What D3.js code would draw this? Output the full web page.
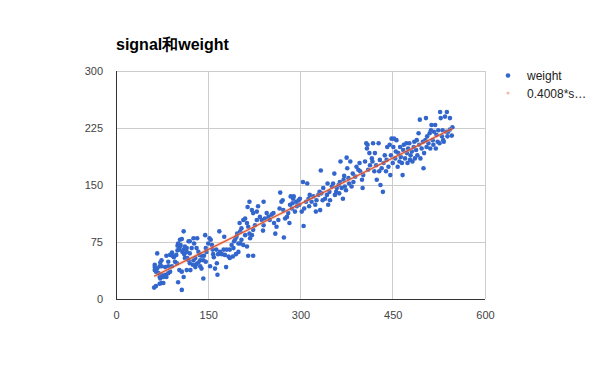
<!DOCTYPE html>
<html>
<head>
<meta charset="utf-8">
<script src="https://cdn.jsdelivr.net/npm/d3@7"></script>
<style>
  html, body { margin: 0; padding: 0; background: #fff; }
  svg { display: block; font-family: "Liberation Sans", Arial, sans-serif; }
</style>
</head>
<body>
<div id="chart"></div>
<script>
// ---------------------------------------------------------------------------
// Data
// ---------------------------------------------------------------------------
const title = 'signal和weight';

const signal = [
  62, 65, 71, 74, 77, 63, 63, 63, 65, 67, 69, 71, 72, 74, 77, 80, 82, 85, 88, 67,
  74, 82, 85, 88, 91, 92, 94, 96, 99, 100, 103, 101, 104, 107, 110, 104, 100, 105, 108, 111,
  112, 115, 116, 118, 120, 121, 115, 107, 103, 101, 107, 110, 125, 126, 129, 129, 131, 134, 137, 126,
  132, 134, 136, 137, 139, 142, 143, 145, 146, 147, 150, 152, 154, 156, 157, 158, 159, 161, 163, 164,
  165, 166, 168, 169, 172, 175, 176, 177, 179, 180, 183, 185, 188, 191, 192, 194, 196, 197, 201, 202,
  199, 195, 190, 185, 153, 146, 142, 139, 131, 127, 123, 120, 115, 112, 118, 120, 110, 98, 91, 85,
  80, 74, 72, 71,
  202, 204, 207, 210, 213, 215, 217, 210, 204, 199, 207, 213, 215, 223, 218, 221, 223, 226, 229, 223,
  221, 217, 214, 229, 231, 234, 237, 239, 240, 242, 240, 245, 248, 250, 253, 256, 257, 259, 261, 264,
  266, 267, 269, 271, 272, 273, 275, 278, 280, 282, 283, 284, 286, 287, 288, 289, 291, 293, 294, 297,
  298, 299, 302, 304, 305, 306, 309, 311, 313, 314, 315, 318, 321, 324, 325, 326, 329, 331, 332, 333,
  334, 336, 337, 340, 343, 344, 345, 347, 348, 351, 353, 355, 356, 358, 359, 362, 363, 364, 365, 367,
  369, 370, 371, 372, 374, 375, 376, 378, 379, 381, 383, 385, 386, 389, 391, 394, 396,
  397, 400, 401, 402, 405, 407, 408, 409, 410, 412, 413, 416, 417, 418, 420, 421, 423, 424, 427, 428,
  429, 430, 432, 434, 435, 437, 439, 440, 441, 443, 445, 446, 447, 448, 450, 451, 452, 454, 455, 456,
  458, 459, 461, 462, 463, 465, 466, 467, 468, 470, 472, 473, 474, 475, 477, 478, 479, 481, 482, 484,
  485, 486, 488, 489, 490, 492, 493, 494, 495, 497, 499, 500, 501, 503, 504, 505, 506, 508, 510, 511,
  512, 513, 515, 516, 517, 519, 520, 521, 523, 524, 526, 527, 528, 530, 531, 532, 533, 535, 537, 538,
  539, 540, 543, 543, 547, 546
];

const weight = [
  15, 17, 20, 21, 21, 45, 42, 38, 36, 40, 34, 29, 27, 32, 29, 32, 29, 34, 36, 60,
  51, 57, 49, 58, 61, 57, 55, 49, 47, 64, 65, 73, 78, 79, 89, 69, 70, 71, 62, 59,
  54, 62, 54, 51, 47, 38, 38, 36, 38, 22, 12, 29, 45, 51, 54, 42, 46, 48, 51, 80,
  80, 62, 58, 43, 40, 27, 57, 84, 67, 62, 73, 80, 78, 71, 65, 59, 55, 40, 65, 47,
  32, 59, 89, 62, 59, 65, 82, 58, 42, 65, 56, 65, 71, 67, 76, 79, 82, 86, 100, 73,
  62, 59, 56, 54, 43, 49, 51, 57, 67, 73, 67, 60, 67, 69, 76, 76, 65, 58, 43, 43,
  42, 43, 48, 43,
  89, 93, 104, 106, 100, 95, 86, 84, 78, 73, 71, 69, 57, 57, 80, 84, 91, 97, 104, 113,
  117, 128, 121, 115, 122, 108, 104, 90, 97, 106, 128, 113, 108, 104, 111, 113, 100, 86, 95, 104,
  119, 140, 128, 130, 117, 81, 106, 108, 113, 100, 124, 135, 119, 126, 132, 135, 115, 128, 122, 130,
  124, 132, 115, 154, 96, 119, 128, 152, 132, 122, 137, 128, 135, 124, 115, 130, 137, 141, 117, 169,
  139, 130, 146, 132, 137, 152, 124, 141, 130, 148, 152, 165, 137, 141, 146, 150, 139, 154, 181, 146,
  132, 157, 162, 148, 143, 186, 172, 159, 152, 181, 148, 165, 154, 161, 174, 170, 179,
  168, 157, 146, 163, 181, 205, 198, 203, 170, 192, 176, 185, 181, 205, 168, 192, 176, 157, 205, 168,
  183, 150, 172, 141, 179, 189, 168, 183, 200, 174, 203, 163, 189, 211, 179, 200, 211, 185, 194, 209,
  174, 192, 181, 200, 187, 179, 163, 196, 203, 185, 205, 192, 179, 198, 205, 183, 189, 194, 181, 200,
  207, 185, 196, 209, 189, 218, 203, 236, 185, 198, 207, 172, 192, 209, 238, 200, 214, 205, 218, 198,
  222, 229, 209, 203, 220, 229, 198, 216, 207, 222, 205, 246, 238, 214, 222, 209, 207, 240, 220, 246,
  214, 220, 238, 223, 226, 215
];

// trendline reported in the legend: weight = 0.4008 * signal + b
const trendSlope = 0.4008;
const trendIntercept = 5;

const xTicks = [0, 150, 300, 450, 600];
const yTicks = [0, 75, 150, 225, 300];
const legendLabels = ['weight', '0.4008*s…'];

// ---------------------------------------------------------------------------
// Layout
// ---------------------------------------------------------------------------
const W = 600, H = 371;
const M = { top: 71, right: 115, bottom: 72, left: 116 };

const svg = d3.select('#chart').append('svg')
  .attr('width', W)
  .attr('height', H);

const x = d3.scaleLinear().domain([0, 600]).range([M.left, W - M.right]);
const y = d3.scaleLinear().domain([0, 300]).range([H - M.bottom, M.top]);

// title
svg.append('text')
  .attr('x', 116)
  .attr('y', 50)
  .attr('font-size', 16)
  .attr('font-weight', 'bold')
  .attr('fill', '#000')
  .text(title);

// gridlines
const grid = svg.append('g').attr('shape-rendering', 'crispEdges');
grid.selectAll('line.gx')
  .data(xTicks.filter(d => d !== 0))
  .join('line')
  .attr('class', 'gx')
  .attr('x1', d => x(d)).attr('x2', d => x(d))
  .attr('y1', y(0)).attr('y2', y(300))
  .attr('stroke', '#cccccc');
grid.selectAll('line.gy')
  .data(yTicks.filter(d => d !== 0))
  .join('line')
  .attr('class', 'gy')
  .attr('x1', x(0)).attr('x2', x(600))
  .attr('y1', d => y(d)).attr('y2', d => y(d))
  .attr('stroke', '#cccccc');

// tick labels via d3 axes (domain and tick lines hidden)
const xAxis = svg.append('g')
  .attr('transform', `translate(0,${y(0)})`)
  .call(d3.axisBottom(x).tickValues(xTicks).tickSize(0).tickPadding(12));
const yAxis = svg.append('g')
  .attr('transform', `translate(${x(0)},0)`)
  .call(d3.axisLeft(y).tickValues(yTicks).tickSize(0).tickPadding(13));
[xAxis, yAxis].forEach(a => {
  a.select('.domain').remove();
  a.selectAll('text')
    .attr('font-family', '"Liberation Sans", Arial, sans-serif')
    .attr('font-size', 11)
    .attr('fill', '#444');
});

// points
const pts = signal.map((s, i) => ({ s, w: weight[i] }));
svg.append('g')
  .selectAll('circle')
  .data(pts)
  .join('circle')
  .attr('cx', d => x(d.s))
  .attr('cy', d => y(d.w))
  .attr('r', 2.3)
  .attr('fill', '#3366cc');

// trendline
const [sMin, sMax] = d3.extent(signal);
const trend = [sMin, sMax].map(s => ({ s, w: trendSlope * s + trendIntercept }));
const line = d3.line().x(d => x(d.s)).y(d => y(d.w));
svg.append('path')
  .datum(trend)
  .attr('d', line)
  .attr('fill', 'none')
  .attr('stroke', '#f0a080')
  .attr('stroke-width', 3)
  .attr('stroke-opacity', 0.5);
svg.append('path')
  .datum(trend)
  .attr('d', line)
  .attr('fill', 'none')
  .attr('stroke', '#dc3912')
  .attr('stroke-width', 1.2)
  .attr('stroke-opacity', 0.85);

// baselines
svg.append('line')
  .attr('x1', x(0)).attr('x2', x(600))
  .attr('y1', y(0)).attr('y2', y(0))
  .attr('stroke', '#333').attr('shape-rendering', 'crispEdges');
svg.append('line')
  .attr('x1', x(0)).attr('x2', x(0))
  .attr('y1', y(0)).attr('y2', y(300))
  .attr('stroke', '#333').attr('shape-rendering', 'crispEdges');

// legend
const legend = svg.append('g').attr('transform', 'translate(508,0)');
legend.append('circle')
  .attr('cx', 0).attr('cy', 75.5).attr('r', 2.3)
  .attr('fill', '#3366cc');
legend.append('circle')
  .attr('cx', 0).attr('cy', 93).attr('r', 1.6)
  .attr('fill', '#dc3912').attr('opacity', 0.35);
legend.selectAll('text')
  .data(legendLabels)
  .join('text')
  .attr('x', 19)
  .attr('y', (d, i) => 80 + i * 17.5)
  .attr('font-size', 12)
  .attr('fill', '#222')
  .text(d => d);
</script>
</body>
</html>
